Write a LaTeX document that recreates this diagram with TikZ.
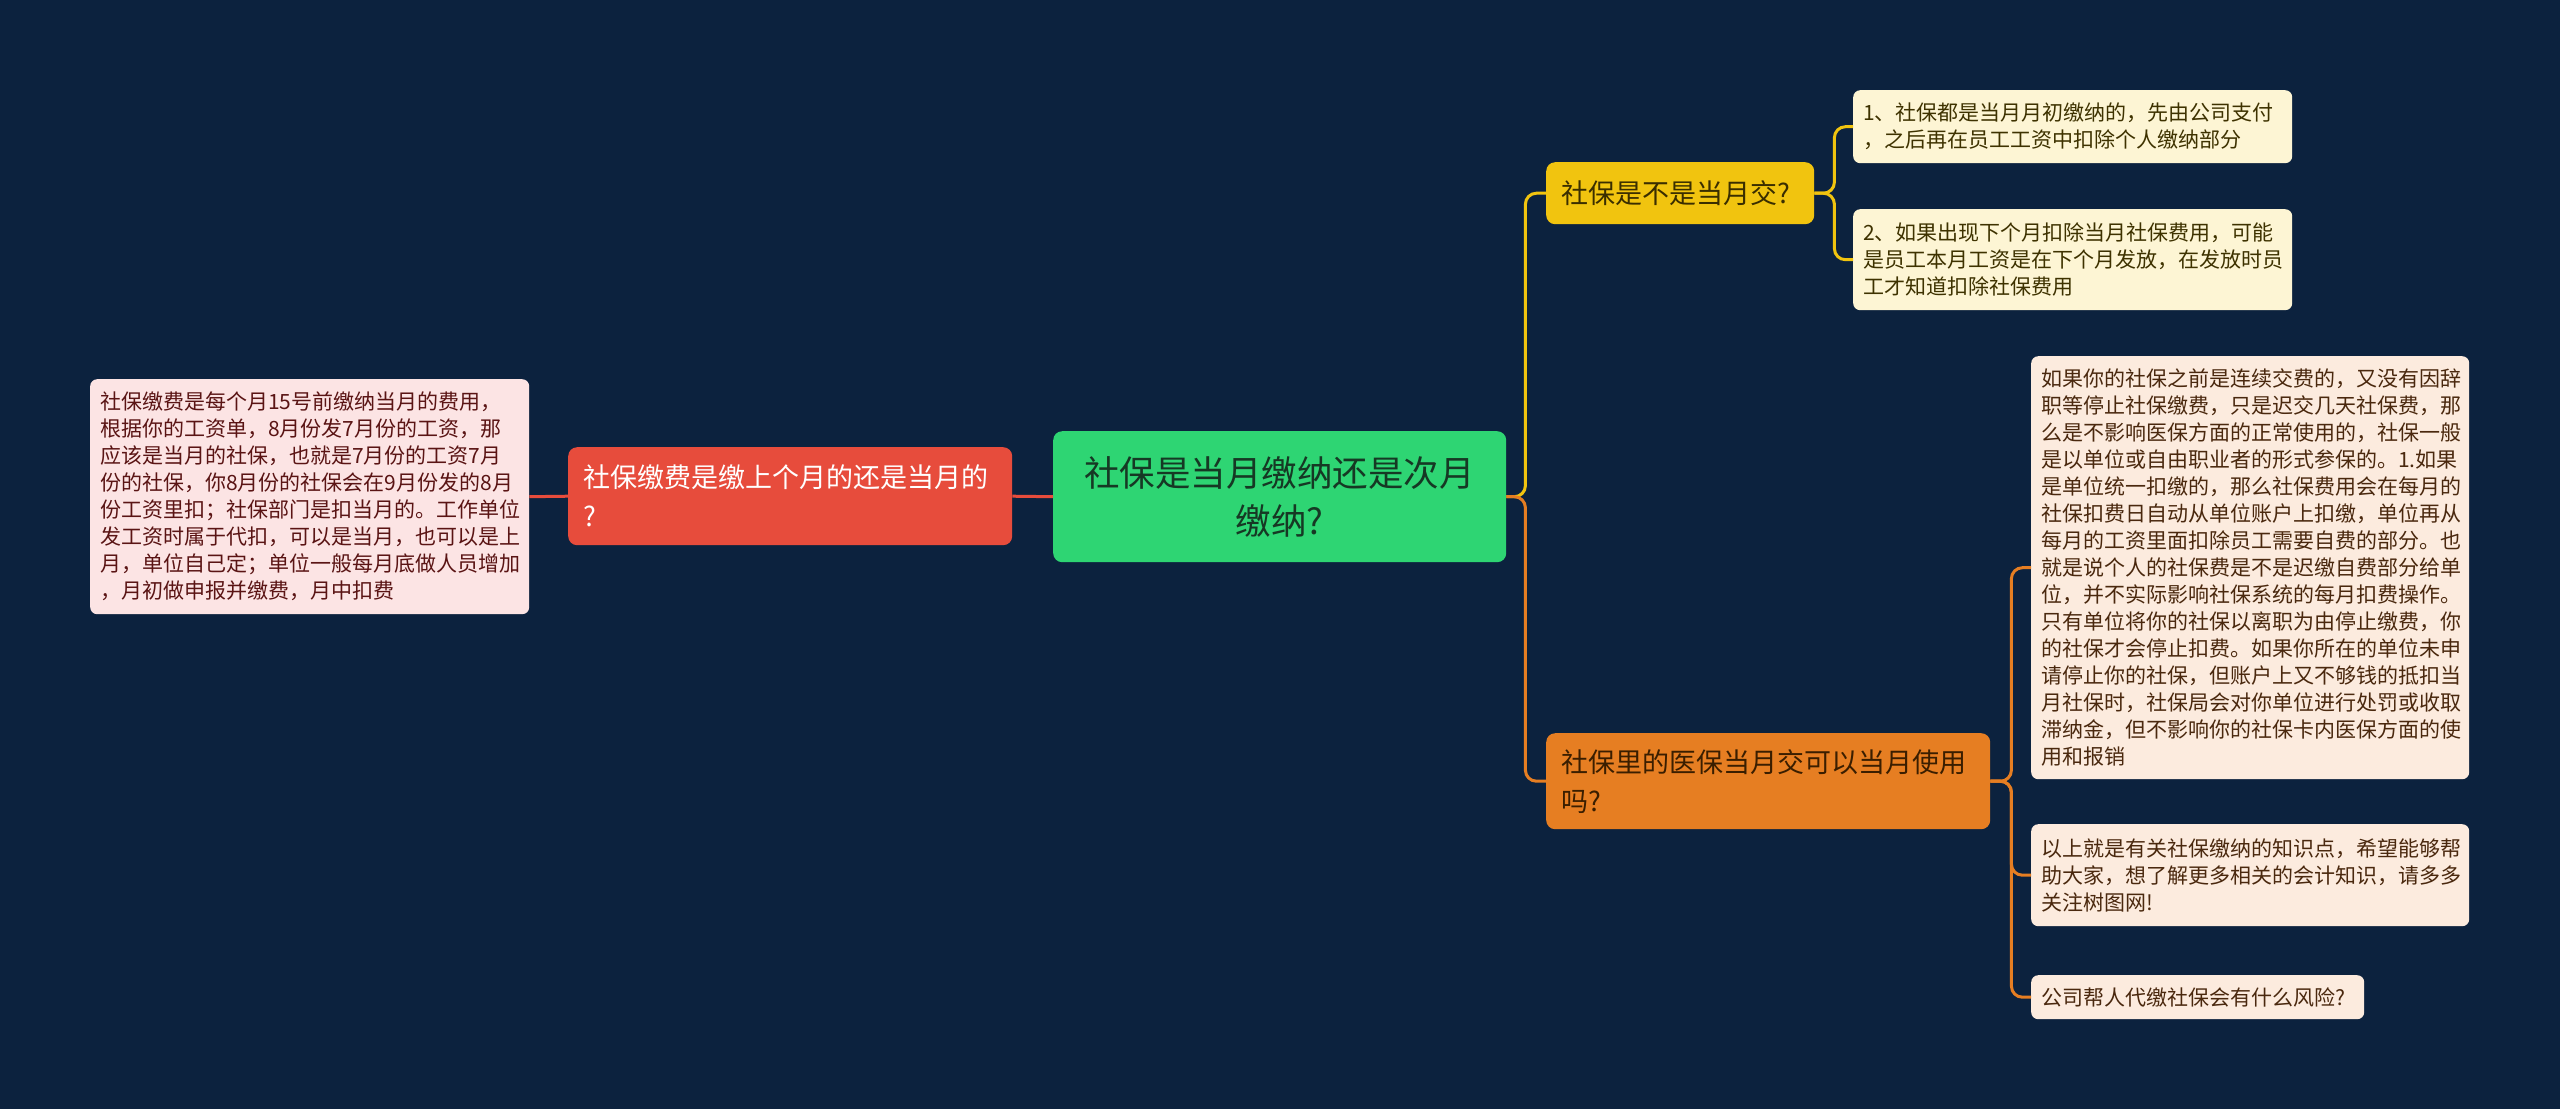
\documentclass[tikz,border=0pt]{standalone}
\usepackage{fontspec}
\newfontfamily\cjk{Noto Sans CJK SC}
\definecolor{bgc}{RGB}{12,34,62}
\definecolor{rootc}{RGB}{46,213,115}
\definecolor{redc}{RGB}{231,76,60}
\definecolor{yelc}{RGB}{241,196,15}
\definecolor{orac}{RGB}{230,126,34}
\definecolor{pinkleaf}{RGB}{252,228,228}
\definecolor{yelleaf}{RGB}{253,245,212}
\definecolor{oraleaf}{RGB}{252,235,222}
\definecolor{roottxt}{RGB}{22,56,36}
\definecolor{yeltxt}{RGB}{58,46,0}
\definecolor{oratxt}{RGB}{58,30,0}
\definecolor{pinktxt}{RGB}{90,20,20}
\definecolor{yleaftxt}{RGB}{62,50,0}
\definecolor{oleaftxt}{RGB}{74,40,14}
\tikzset{
  boxbase/.style={anchor=north west, rounded corners=7pt, inner ysep=0pt},
  leafbox/.style={boxbase, inner xsep=10pt, align=left,
    font=\cjk\fontsize{21}{27}\selectfont},
  branchbox/.style={boxbase, inner xsep=15pt, align=left, rounded corners=9pt,
    font=\cjk\fontsize{27}{39}\selectfont},
  rootbox/.style={boxbase, inner xsep=15pt, align=center, rounded corners=9pt,
    font=\cjk\fontsize{35.5}{48}\selectfont},
  conn/.style={line width=3pt, rounded corners=11pt}
}
\begin{document}
\begin{tikzpicture}[x=1pt,y=-1pt]
\useasboundingbox (0,0) rectangle (2560,1109);
\fill[bgc] (0,0) rectangle (2560,1109);

% root
\node[rootbox, fill=rootc, text=roottxt, minimum width=453pt, minimum height=131pt, text width=423pt]
  (root) at (1053,431) {社保是当月缴纳还是次月\\缴纳?};

% left branch
\node[branchbox, fill=redc, text=white, minimum width=444pt, minimum height=98pt, text width=414pt]
  (red) at (568,447) {社保缴费是缴上个月的还是当月的\\?};
\node[leafbox, fill=pinkleaf, text=pinktxt, minimum width=439pt, minimum height=235pt, text width=419pt]
  (lleaf) at (90,379) {社保缴费是每个月15号前缴纳当月的费用，\\根据你的工资单，8月份发7月份的工资，那\\应该是当月的社保，也就是7月份的工资7月\\份的社保，你8月份的社保会在9月份发的8月\\份工资里扣；社保部门是扣当月的。工作单位\\发工资时属于代扣，可以是当月，也可以是上\\月，单位自己定；单位一般每月底做人员增加\\，月初做申报并缴费，月中扣费};

% yellow branch
\node[branchbox, fill=yelc, text=yeltxt, minimum width=268pt, minimum height=62pt, text width=238pt]
  (yel) at (1546,162) {社保是不是当月交?};
\node[leafbox, fill=yelleaf, text=yleaftxt, minimum width=439pt, minimum height=73pt, text width=419pt]
  (y1) at (1853,90) {1、社保都是当月月初缴纳的，先由公司支付\\，之后再在员工工资中扣除个人缴纳部分};
\node[leafbox, fill=yelleaf, text=yleaftxt, minimum width=439pt, minimum height=101pt, text width=419pt]
  (y2) at (1853,209) {2、如果出现下个月扣除当月社保费用，可能\\是员工本月工资是在下个月发放，在发放时员\\工才知道扣除社保费用};

% orange branch
\node[branchbox, fill=orac, text=oratxt, minimum width=444pt, minimum height=96pt, text width=414pt]
  (ora) at (1546,733) {社保里的医保当月交可以当月使用\\吗?};
\node[leafbox, fill=oraleaf, text=oleaftxt, minimum width=438pt, minimum height=423pt, text width=418pt]
  (oa) at (2031,356) {如果你的社保之前是连续交费的，又没有因辞\\职等停止社保缴费，只是迟交几天社保费，那\\么是不影响医保方面的正常使用的，社保一般\\是以单位或自由职业者的形式参保的。1.如果\\是单位统一扣缴的，那么社保费用会在每月的\\社保扣费日自动从单位账户上扣缴，单位再从\\每月的工资里面扣除员工需要自费的部分。也\\就是说个人的社保费是不是迟缴自费部分给单\\位，并不实际影响社保系统的每月扣费操作。\\只有单位将你的社保以离职为由停止缴费，你\\的社保才会停止扣费。如果你所在的单位未申\\请停止你的社保，但账户上又不够钱的抵扣当\\月社保时，社保局会对你单位进行处罚或收取\\滞纳金，但不影响你的社保卡内医保方面的使\\用和报销};
\node[leafbox, fill=oraleaf, text=oleaftxt, minimum width=438pt, minimum height=102pt, text width=418pt]
  (ob) at (2031,824) {以上就是有关社保缴纳的知识点，希望能够帮\\助大家，想了解更多相关的会计知识，请多多\\关注树图网!};
\node[leafbox, fill=oraleaf, text=oleaftxt, minimum width=333pt, minimum height=44pt, text width=313pt]
  (oc) at (2031,975) {公司帮人代缴社保会有什么风险?};

% connectors
\draw[conn, redc] (root.west) -- (red.east);
\draw[conn, redc] (red.west) -- (lleaf.east);
\draw[conn, yelc] (root.east) -- ++(19,0) |- (yel.west);
\draw[conn, orac] (root.east) -- ++(19,0) |- (ora.west);
\draw[conn, yelc] (yel.east) -- ++(20,0) |- (y1.west);
\draw[conn, yelc] (yel.east) -- ++(20,0) |- (y2.west);
\draw[conn, orac] (ora.east) -- ++(21,0) |- (oa.west);
\draw[conn, orac] (ora.east) -- ++(21,0) |- (ob.west);
\draw[conn, orac] (ora.east) -- ++(21,0) |- (oc.west);
\end{tikzpicture}
\end{document}
